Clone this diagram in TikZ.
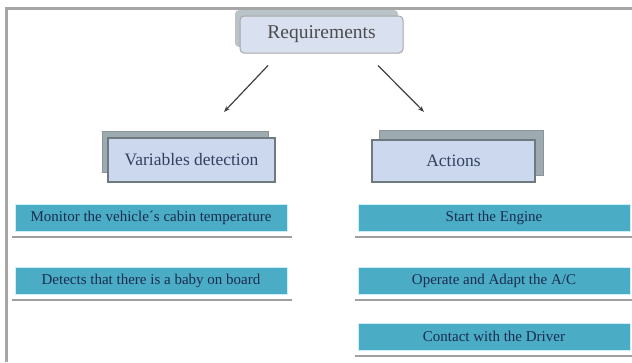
\documentclass[tikz,border=0pt]{standalone}
\usepackage{fontspec}
\setmainfont{Liberation Serif}
\usepackage{xcolor}
\usetikzlibrary{arrows.meta}
\definecolor{reqfill}{HTML}{D9E1F0}
\definecolor{headfill}{HTML}{CCD8EE}
\definecolor{shadefill}{HTML}{9DAAB0}
\definecolor{edgegray}{HTML}{6E7A80}
\definecolor{tealfill}{HTML}{4BACC6}
\definecolor{navytext}{HTML}{1B2C4E}

\tikzset{
  reqbox/.style={draw=gray!70, line width=1pt, rounded corners=4pt, fill=reqfill,
    minimum width=163pt, minimum height=37pt, inner sep=0pt, text=black!70,
    font=\fontsize{19.5}{22}\selectfont},
  reqshade/.style={fill=shadefill!70, rounded corners=4pt, minimum width=163pt,
    minimum height=37pt, inner sep=0pt},
  headbox/.style={draw=edgegray, line width=2.2pt, fill=headfill, inner sep=0pt,
    text=navytext!90, font=\fontsize{17.5}{20}\selectfont},
  headshade/.style={draw=edgegray!80, line width=1pt, fill=shadefill, inner sep=0pt},
  taskbox/.style={draw=cyan!20, line width=0.6pt, fill=tealfill, minimum width=272pt,
    minimum height=27pt, inner sep=0pt, text=navytext, font=\fontsize{15}{17}\selectfont},
  tasksub/.style={draw=gray!75, line width=2pt},
  arr/.style={draw=black!75, line width=1.2pt, -{Stealth[length=6pt,width=4.5pt]}}
}

\begin{document}
\begin{tikzpicture}[x=1pt, y=-1pt]
    \useasboundingbox (0,0) rectangle (632,362);
    % frame
    \draw[gray!70, line width=2.5pt] (6.5,362) -- (6.5,8.5) -- (632,8.5);
    % top
    \node[reqshade] (reqs) at (316.5,28.5) {};
    \node[reqbox] (req) at (321.5,34.5) {Requirements};
    % headings
    \node[headshade, minimum width=166pt, minimum height=41pt] (vars) at (185,151.5) {};
    \node[headbox, minimum width=167pt, minimum height=44pt] (var) at (191.5,160) {Variables detection};
    \node[headshade, minimum width=164pt, minimum height=45pt] (acts) at (461,152.5) {};
    \node[headbox, minimum width=163pt, minimum height=42pt] (act) at (453.5,161) {Actions};
    % arrows
    \draw[arr] ([xshift=-53.5pt,yshift=-12pt]req.south) -- ([xshift=32.5pt,yshift=25pt]var.north);
    \draw[arr] ([xshift=56.5pt,yshift=-12pt]req.south) -- ([xshift=-29.5pt,yshift=27pt]act.north);
    % left column
    \node[taskbox] (temp) at (151,217.5) {Monitor the vehicle´s cabin temperature};
    \node[taskbox] (baby) at (151,280.5) {Detects that there is a baby on board};
    % right column
    \node[taskbox] (engine) at (494,217.5) {Start the Engine};
    \node[taskbox] (ac) at (494,280.5) {Operate and Adapt the A/C};
    \node[taskbox] (driver) at (494,336.5) {Contact with the Driver};
    % shade lines
    \foreach \t in {temp,baby,engine,ac,driver}
      \draw[tasksub] ([xshift=-3pt,yshift=-6pt]\t.south west) -- ([xshift=5pt,yshift=-6pt]\t.south east);
\end{tikzpicture}
\end{document}
